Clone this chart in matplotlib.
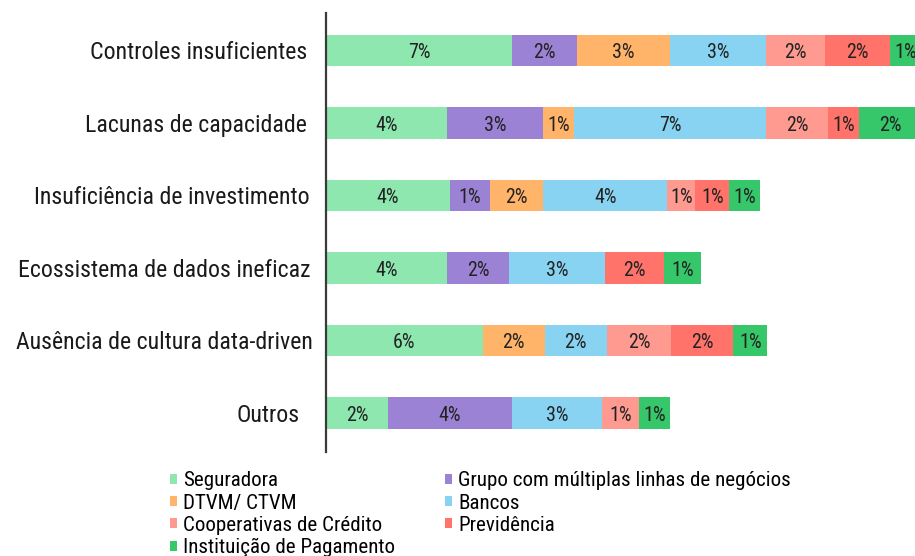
import matplotlib
matplotlib.use("Agg")
import matplotlib.pyplot as plt
from matplotlib.patches import Patch
from matplotlib import font_manager

# pick a narrow / condensed sans font if one is installed
fl = font_manager.fontManager.ttflist
chosen = None
for pref in ["Liberation Sans Narrow", "Roboto Condensed", "Open Sans Condensed", "DejaVu Sans"]:
    for f in fl:
        if f.name == pref and f.weight in (400, "normal", "regular") and f.style == "normal":
            if pref == "DejaVu Sans" and "condensed" not in str(f.stretch) and "Condensed" not in f.fname:
                continue
            chosen = f
            break
    if chosen:
        break
if chosen is not None:
    plt.rcParams["font.family"] = [chosen.name, "DejaVu Sans"]
    plt.rcParams["font.stretch"] = chosen.stretch
else:
    plt.rcParams["font.family"] = ["Lato", "DejaVu Sans"]

categories = ["Controles insuficientes", "Lacunas de capacidade", "Insuficiência de investimento",
              "Ecossistema de dados ineficaz", "Ausência de cultura data-driven", "Outros"]

series_names = ["Seguradora", "Grupo com múltiplas linhas de negócios", "DTVM/ CTVM", "Bancos",
                "Cooperativas de Crédito", "Previdência", "Instituição de Pagamento"]

seguradora = [6.6, 4.3, 4.4, 4.3, 5.55, 2.2]
grupo      = [2.3, 3.4, 1.4, 2.2, 0.0, 4.4]
dtvm       = [3.3, 1.1, 1.9, 0.0, 2.2, 0.0]
bancos     = [3.4, 6.8, 4.4, 3.4, 2.2, 3.2]
coop       = [2.1, 2.2, 1.0, 0.0, 2.3, 1.3]
prev       = [2.3, 1.1, 1.2, 2.1, 2.2, 0.0]
inst       = [1.1, 2.2, 1.1, 1.3, 1.2, 1.1]

series = [seguradora, grupo, dtvm, bancos, coop, prev, inst]
colors = ["#8DE7AE", "#9B82D4", "#FFB46A", "#87D3F1", "#FF9A91", "#FF736B", "#35C76A"]

fig = plt.figure(figsize=(9.15, 5.56), dpi=100)
renderer = fig.canvas.get_renderer()


def extent_at(s, size):
    t = fig.text(0, 0, s, fontsize=size)
    bb = t.get_window_extent(renderer)
    t.remove()
    return bb.width, bb.height


tick_fs = min(18.0, 10 * 216 / extent_at("Controles insuficientes", 10)[0])
leg_fs = min(16.0, 10 * 331 / extent_at("Grupo com múltiplas linhas de negócios", 10)[0])
bar_fs = min(15.0, 10 * 22.5 / extent_at("7%", 10)[0])

ax = fig.add_axes([326 / 915, 1 - 452 / 556, 1 - 326 / 915, (452 - 13.3) / 556])

ypos = list(range(len(categories)))
left = [0.0] * len(categories)
for vals, col in zip(series, colors):
    ax.barh(ypos, vals, left=left, height=0.43, color=col, edgecolor="none")
    for i, v in enumerate(vals):
        if v > 0:
            ax.text(left[i] + v / 2, ypos[i] + 0.03, f"{round(v):.0f}%", ha="center", va="center",
                    fontsize=bar_fs, color="#222222")
    left = [l + v for l, v in zip(left, vals)]

ax.set_xlim(0, (915 - 326) / 28.2)
ax.set_ylim(5.538, -0.513)
ax.set_yticks(ypos)
ax.set_yticklabels(categories, fontsize=tick_fs, color="#1a1a1a")
ax.set_xticks([])
ax.tick_params(axis="y", length=0)
pads_px = [19, 19, 16, 15, 13, 26]
for t, p in zip(ax.yaxis.get_major_ticks(), pads_px):
    t.set_pad(p * 0.72)
for s in ["top", "right", "bottom"]:
    ax.spines[s].set_visible(False)
ax.spines["left"].set_color("#3a3a3a")
ax.spines["left"].set_linewidth(1.6)

fs_px = leg_fs * 100 / 72
w1, h1 = extent_at("Instituição de Pagamento", leg_fs)
colsp = (445 - (183 + w1)) / fs_px
lsp = (22.4 - h1) / fs_px

handles = [Patch(facecolor=c, edgecolor="none", label=n) for n, c in zip(series_names, colors)]
order = [0, 2, 4, 6, 1, 3, 5]
fig.legend([handles[i] for i in order], [series_names[i] for i in order], ncol=2,
           loc="upper left", bbox_to_anchor=(170 / 915, 1 - (481 - h1 / 2) / 556), frameon=False,
           fontsize=leg_fs, handlelength=7 / fs_px, handleheight=7 / fs_px, handletextpad=6 / fs_px,
           labelspacing=lsp, columnspacing=colsp,
           borderpad=0, borderaxespad=0)

fig.savefig("out.png", dpi=100)
